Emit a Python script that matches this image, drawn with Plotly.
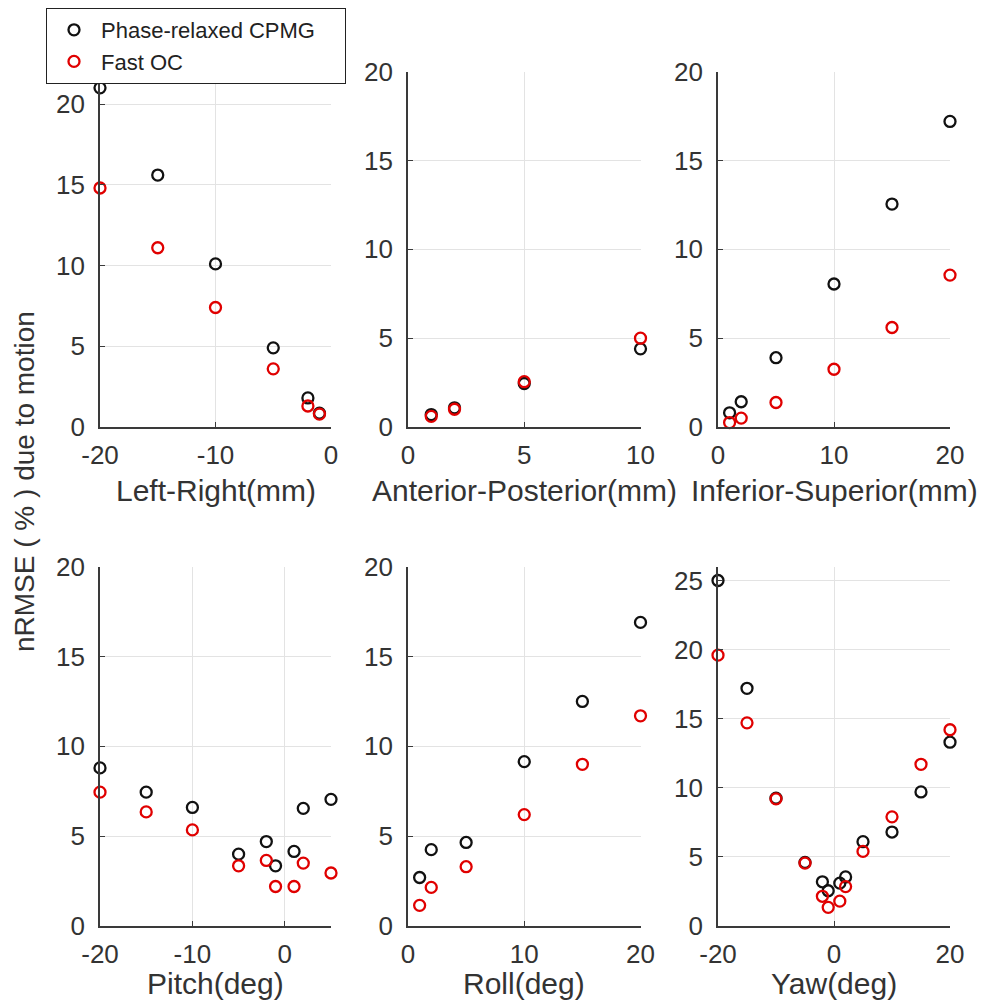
import plotly.graph_objects as go

# ---------------- data ----------------
series_names = ["Phase-relaxed CPMG", "Fast OC"]
series_colors = ["#111111", "#e00000"]

lr_x = [-20, -15, -10, -5, -2, -1]
lr_cpmg = [21.0, 15.6, 10.1, 4.9, 1.8, 0.85]
lr_oc = [14.8, 11.1, 7.4, 3.6, 1.3, 0.8]

ap_x = [1, 2, 5, 10]
ap_cpmg = [0.7, 1.08, 2.45, 4.4]
ap_oc = [0.6, 1.0, 2.55, 5.0]

is_x = [1, 2, 5, 10, 15, 20]
is_cpmg = [0.8, 1.42, 3.9, 8.05, 12.55, 17.2]
is_oc = [0.25, 0.5, 1.38, 3.25, 5.6, 8.55]

pitch_x = [-20, -15, -10, -5, -2, -1, 1, 2, 5]
pitch_cpmg = [8.8, 7.45, 6.6, 4.0, 4.7, 3.35, 4.15, 6.55, 7.05]
pitch_oc = [7.45, 6.35, 5.35, 3.35, 3.65, 2.2, 2.2, 3.5, 2.95]

roll_x = [1, 2, 5, 10, 15, 20]
roll_cpmg = [2.7, 4.25, 4.65, 9.15, 12.5, 16.9]
roll_oc = [1.15, 2.15, 3.3, 6.2, 9.0, 11.7]

yaw_x = [-20, -15, -10, -5, -2, -1, 1, 2, 5, 10, 15, 20]
yaw_cpmg = [25.0, 17.2, 9.25, 4.6, 3.2, 2.55, 3.1, 3.55, 6.1, 6.8, 9.7, 13.3]
yaw_oc = [19.6, 14.7, 9.2, 4.55, 2.15, 1.35, 1.8, 2.85, 5.4, 7.9, 11.7, 14.2]

x_titles = ["Left-Right(mm)", "Anterior-Posterior(mm)", "Inferior-Superior(mm)",
            "Pitch(deg)", "Roll(deg)", "Yaw(deg)"]
y_title = "nRMSE ( % ) due to motion"

# x ticks per panel, y ticks per panel
x_ticks = [[-20, -10, 0], [0, 5, 10], [0, 10, 20], [-20, -10, 0], [0, 10, 20], [-20, 0, 20]]
y_ticks_20 = [0, 5, 10, 15, 20]
y_ticks_25 = [0, 5, 10, 15, 20, 25]

panels = [
    (lr_x, lr_cpmg, lr_oc, [-20, 0], x_ticks[0], [0, 22], y_ticks_20),
    (ap_x, ap_cpmg, ap_oc, [0, 10], x_ticks[1], [0, 20], y_ticks_20),
    (is_x, is_cpmg, is_oc, [0, 20], x_ticks[2], [0, 20], y_ticks_20),
    (pitch_x, pitch_cpmg, pitch_oc, [-20, 5], x_ticks[3], [0, 20], y_ticks_20),
    (roll_x, roll_cpmg, roll_oc, [0, 20], x_ticks[4], [0, 20], y_ticks_20),
    (yaw_x, yaw_cpmg, yaw_oc, [-20, 20], x_ticks[5], [0, 26], y_ticks_25),
]

# ---------------- layout geometry ----------------
W, H = 981, 1008
col_px = [(100, 331), (408, 640.5), (718, 950)]
row_px = [(71.7, 427), (566.7, 926)]

FONT = "Liberation Sans, Arial, sans-serif"
TICK_COLOR = "#333333"
AXIS_COLOR = "#3a3a3a"
GRID_COLOR = "#e3e3e3"
NBSP = "\u00a0"

fig = go.Figure()
layout = dict(
    width=W, height=H,
    margin=dict(l=0, r=0, t=0, b=0, autoexpand=False),
    paper_bgcolor="white", plot_bgcolor="white",
    font=dict(family=FONT, color=TICK_COLOR),
    showlegend=True,
    legend=dict(
        x=46 / W, y=1 - 8 / H, xanchor="left", yanchor="top",
        bgcolor="white", bordercolor="#222222", borderwidth=1,
        font=dict(family=FONT, size=22, color="#222222"),
        itemwidth=44, tracegroupgap=0,
    ),
)

annotations = []
for i, (xs, ycp, yoc, xr, xt, yr, yt) in enumerate(panels):
    r, c = divmod(i, 3)
    ax = "" if i == 0 else str(i + 1)
    x0, x1 = col_px[c]
    y0, y1 = row_px[r]
    xdom = [x0 / W, x1 / W]
    ydom = [1 - y1 / H, 1 - y0 / H]
    common = dict(
        showgrid=True, gridcolor=GRID_COLOR, gridwidth=1,
        showline=True, linecolor=AXIS_COLOR, linewidth=1.8, mirror=False,
        ticks="inside", ticklen=5, tickcolor=AXIS_COLOR, tickwidth=1,
        zeroline=False, tickfont=dict(family=FONT, size=26, color=TICK_COLOR),
        fixedrange=True, automargin=False,
    )
    layout["xaxis" + ax] = dict(common, domain=xdom, range=xr, tickvals=xt,
                                ticktext=[str(v) for v in xt],
                                anchor="y" + ax, ticklabelstandoff=4)
    layout["yaxis" + ax] = dict(common, domain=ydom, range=yr, tickvals=yt,
                                ticktext=[str(v) for v in yt],
                                anchor="x" + ax, ticklabelstandoff=8)
    for s, (name, col, ys) in enumerate(zip(series_names, series_colors, [ycp, yoc])):
        fig.add_trace(go.Scatter(
            x=xs, y=ys, mode="markers",
            name=name + (NBSP * 4 if s == 0 else ""),
            marker=dict(symbol="circle-open", size=11, color=col, line=dict(width=2.3, color=col)),
            xaxis="x" + ax, yaxis="y" + ax, cliponaxis=False,
            legendgroup=name, showlegend=(i == 0),
        ))
    title_y = 490 if r == 0 else 983
    annotations.append(dict(
        text=x_titles[i], xref="paper", yref="paper",
        x=(x0 + x1) / 2 / W, y=1 - title_y / H, xanchor="center", yanchor="middle",
        showarrow=False, font=dict(family=FONT, size=30, color=TICK_COLOR),
    ))

annotations.append(dict(
    text=y_title, xref="paper", yref="paper", x=24 / W, y=1 - 482 / H,
    xanchor="center", yanchor="middle", textangle=-90, showarrow=False,
    font=dict(family=FONT, size=28, color=TICK_COLOR),
))
layout["annotations"] = annotations
fig.update_layout(**layout)
fig.write_html("out.html")
